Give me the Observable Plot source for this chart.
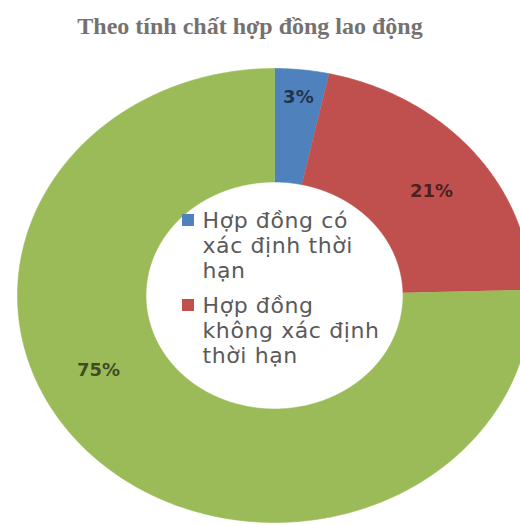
<!DOCTYPE html>
<html><head><meta charset="utf-8">
<script src="https://cdn.jsdelivr.net/npm/d3@7"></script>
<script src="https://cdn.jsdelivr.net/npm/@observablehq/plot@0.6"></script>
<style>
html,body{margin:0;padding:0;background:#fff;overflow:hidden;width:520px;height:525px}
#title{width:500px;height:50px;line-height:52px;text-align:center;font-family:"Liberation Serif","Times New Roman",serif;font-weight:bold;font-size:24px;color:#767171;white-space:nowrap}
#chart svg{display:block}
</style></head><body>
<div id="title">Theo tính chất hợp đồng lao động</div>
<div id="chart"></div>
<script>
const categories = ["Hợp đồng có xác định thời hạn", "Hợp đồng không xác định thời hạn", "Không có hợp đồng"];
const shares = [3.4, 21.2, 75.4];
const valueLabels = ["3%", "21%", "75%"];
const colors = ["#4F81BD", "#C0504D", "#9BBB59"];
const legendLines = [["Hợp đồng có", "xác định thời", "hạn"], ["Hợp đồng", "không xác định", "thời hạn"]];

const W = 520, H = 475;
const inner = 0.5;
const arcs = d3.pie().sort(null).value(d => d)(shares);

function ringPoints(a0, a1, i) {
  const n = Math.max(2, Math.ceil((a1 - a0) / (Math.PI / 360)));
  const pts = [];
  for (let k = 0; k <= n; k++) { const t = a0 + (a1 - a0) * k / n; pts.push({x: Math.sin(t), y: Math.cos(t), i}); }
  for (let k = n; k >= 0; k--) { const t = a0 + (a1 - a0) * k / n; pts.push({x: inner * Math.sin(t), y: inner * Math.cos(t), i}); }
  return pts;
}

// layout helpers (page px -> scale units)
const sx = px => (px - 274) / 257;
const sy = py => (295 - py) / 227;

const nudge = [[0.013, 0.126], [0.033, -0.02], [-0.161, 0.207]];
const labelData = arcs.map((a, i) => {
  const m = (a.startAngle + a.endAngle) / 2;
  return {x: 0.75 * Math.sin(m) + nudge[i][0], y: 0.75 * Math.cos(m) + nudge[i][1], label: valueLabels[i]};
});

const legendData = legendLines.map((lines, i) => ({
  i, text: lines.join("\n"), name: categories[i],
  sqx: sx(187.5), sqy: sy(219.5 + 85 * i),
  tx: sx(202), ty: sy(277 + 85 * i)
}));

const chart = Plot.plot({
  width: W, height: H, margin: 0,
  x: {domain: [-1, 1], range: [17, 531], axis: null},
  y: {domain: [-1, 1], range: [472, 18], axis: null},
  style: {background: "white", overflow: "visible"},
  marks: [
    ...arcs.map((a, i) => Plot.line(ringPoints(a.startAngle, a.endAngle, i), {
      x: "x", y: "y", fill: colors[i], stroke: colors[i], strokeWidth: 0.6, curve: "linear"
    })),
    Plot.text(labelData, {x: "x", y: "y", text: "label", fontSize: 18, fontWeight: "bold",
      fontFamily: "DejaVu Sans", fill: "#000", fillOpacity: 0.62}),
    ...legendData.map(d => Plot.dot([d], {x: "sqx", y: "sqy", symbol: "square", r: 6.8, fill: colors[d.i], stroke: null})),
    Plot.text(legendData, {x: "tx", y: "ty", text: "text", textAnchor: "start", lineAnchor: "bottom",
      lineHeight: 1.136, fontSize: 22, fontFamily: "DejaVu Sans", fill: "#5a5a5a"})
  ]
});
const textGroups = chart.querySelectorAll('g[aria-label="text"]');
if (textGroups.length > 1) textGroups[textGroups.length - 1].style.letterSpacing = "0.6px";
document.getElementById("chart").appendChild(chart);
</script>
</body></html>
